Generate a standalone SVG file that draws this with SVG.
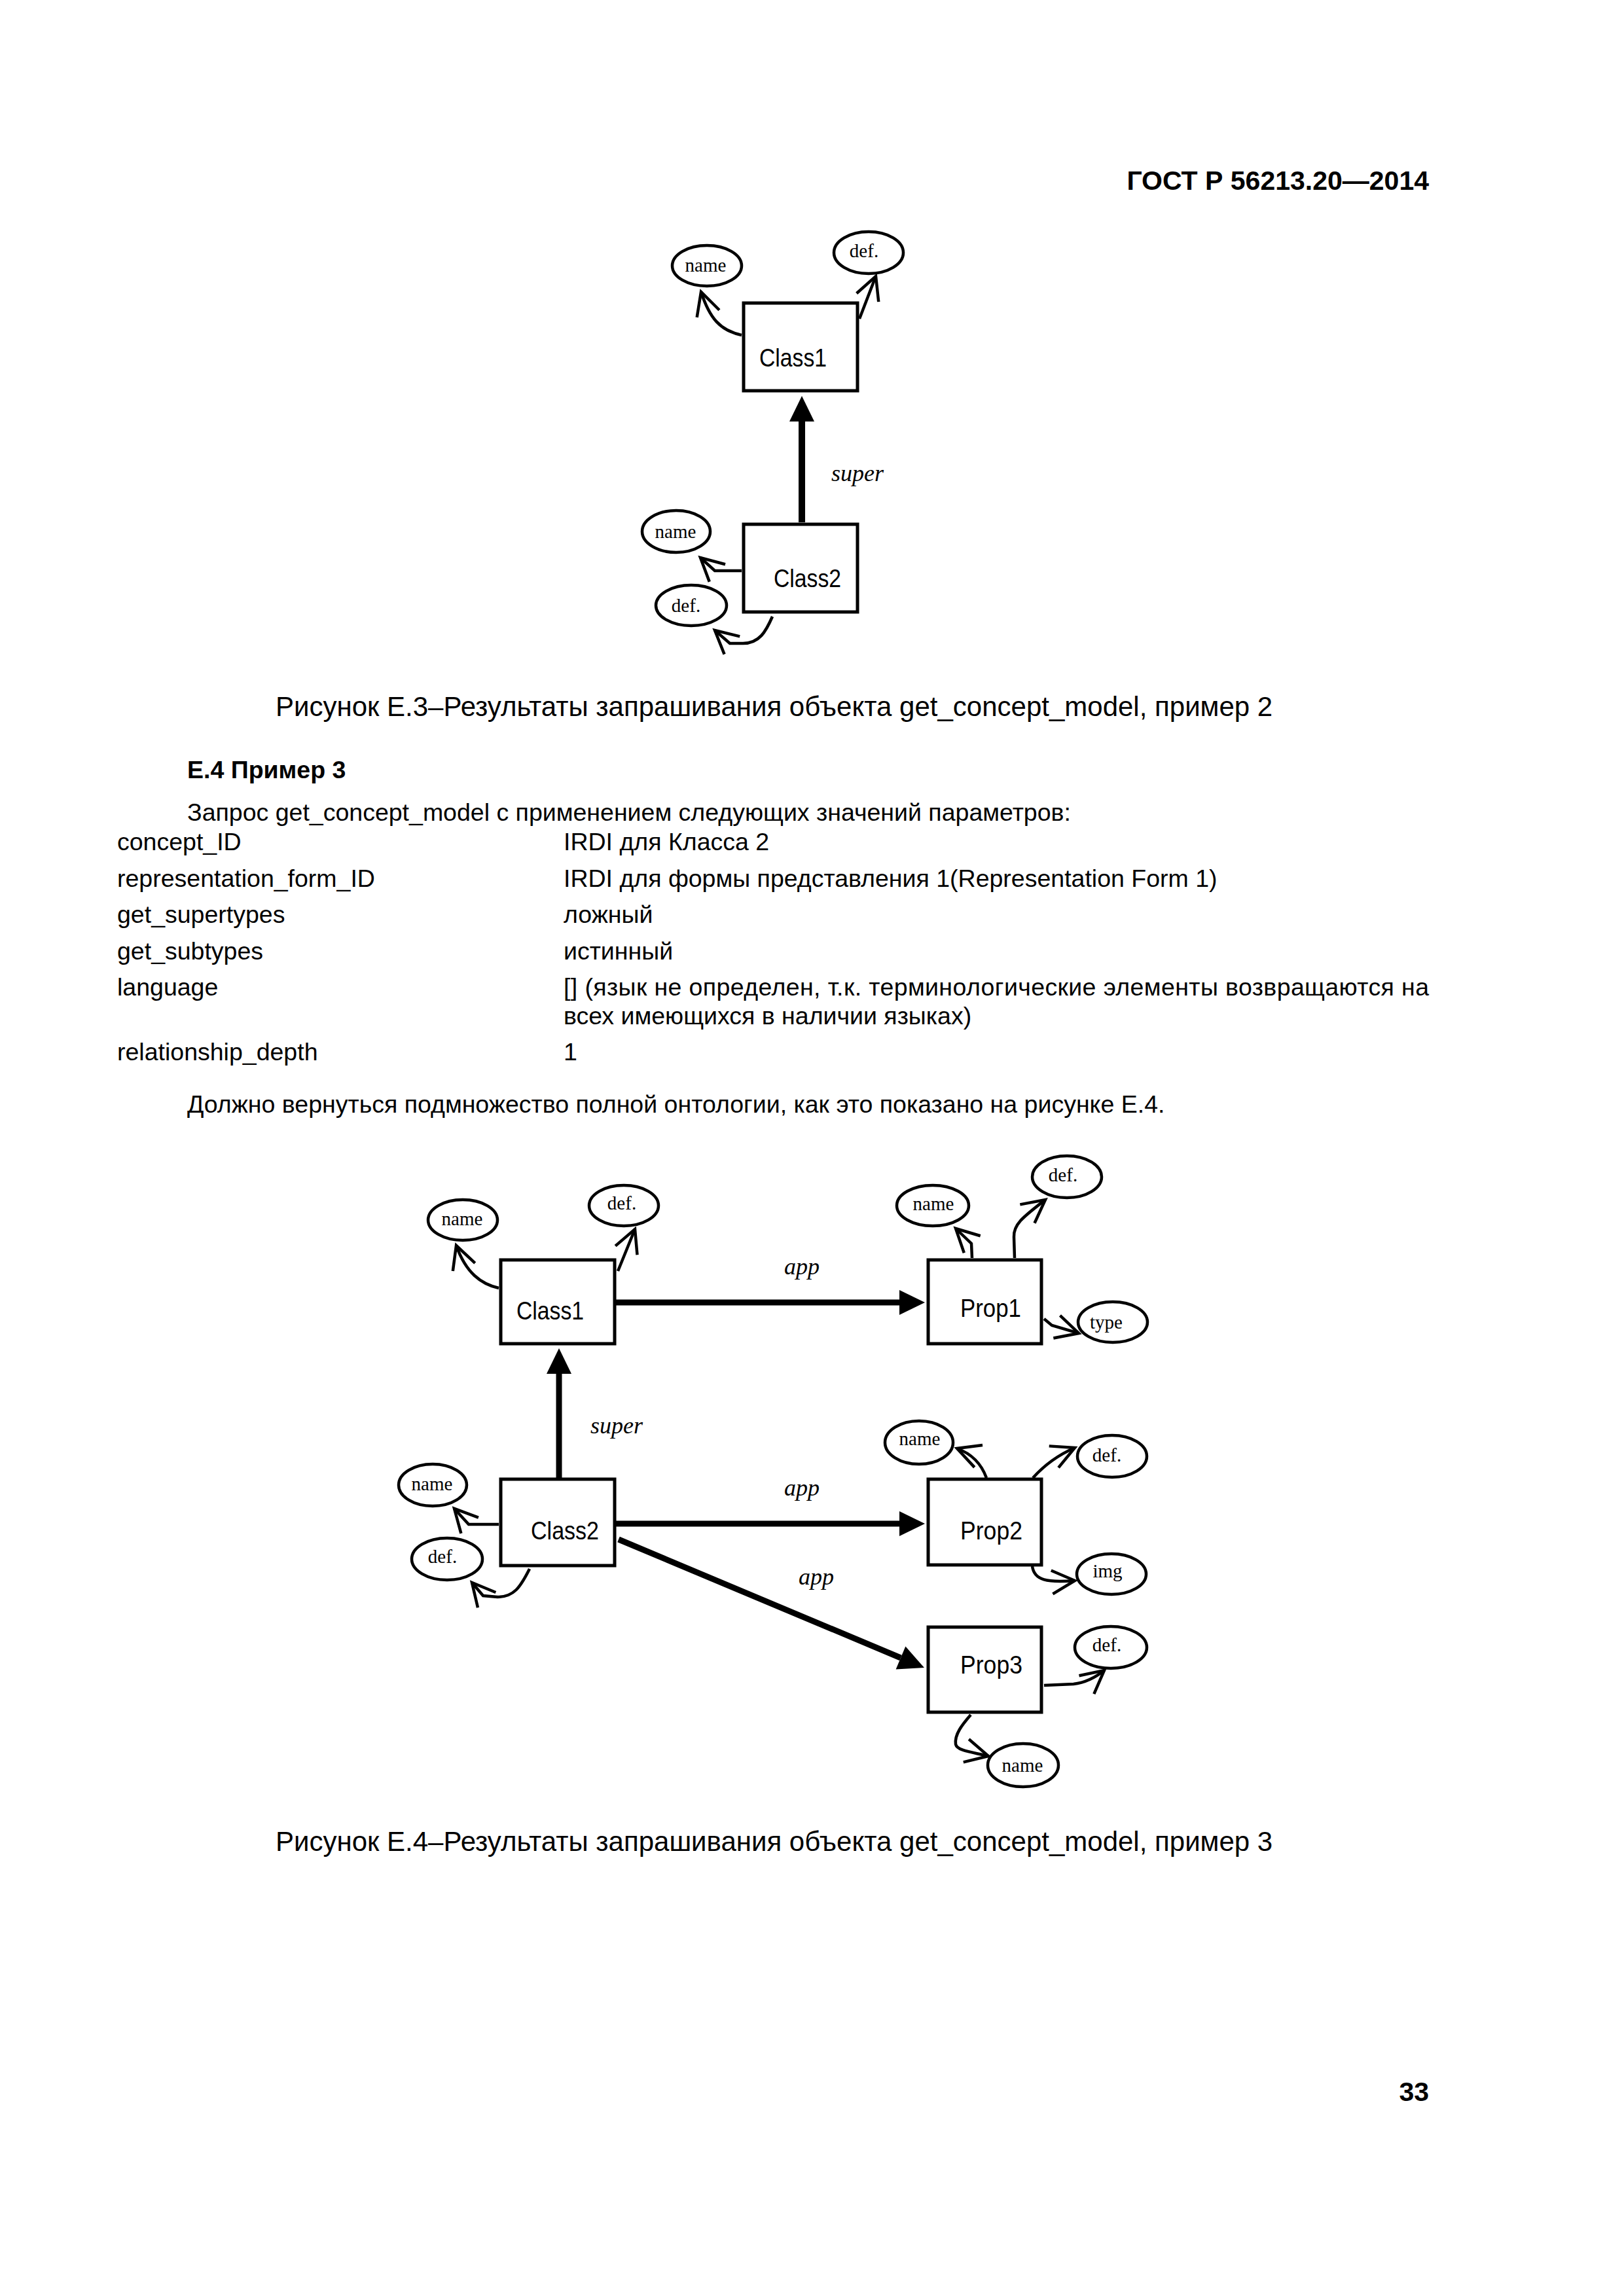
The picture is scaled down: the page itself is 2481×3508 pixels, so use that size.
<svg xmlns="http://www.w3.org/2000/svg" width="2481" height="3508" viewBox="0 0 2481 3508">
<style>
.box{fill:#fff;stroke:#000;stroke-width:5}
.att{fill:#fff;stroke:#000;stroke-width:4.5}
.nl{font-family:"Liberation Sans","DejaVu Sans",sans-serif;font-size:38px;fill:#000}
.al{font-family:"Liberation Serif","DejaVu Serif",serif;font-size:29px;text-anchor:middle;fill:#000}
.rl{font-family:"Liberation Serif","DejaVu Serif",serif;font-size:36px;font-style:italic;fill:#000}
.tx{font-family:"Liberation Sans",Arial,sans-serif;font-size:37.5px;fill:#000}
.cap{font-size:42px}
.b{font-weight:bold}
.thin{fill:none;stroke:#000;stroke-width:4.5;marker-end:url(#open)}
.thick{fill:none;stroke:#000;stroke-width:9;marker-end:url(#tri)}
</style>
<defs>
<marker id="tri" markerUnits="userSpaceOnUse" markerWidth="42" markerHeight="42" viewBox="0 -21 42 42" refX="0" refY="0" orient="auto" overflow="visible"><path d="M0,-19 L39,0 L0,19 Z" fill="#000"/></marker>
<marker id="open" markerUnits="userSpaceOnUse" markerWidth="50" markerHeight="50" viewBox="-45 -25 50 50" refX="0" refY="0" orient="auto" overflow="visible"><path d="M-35,-18 L0,0 L-35,18" fill="none" stroke="#000" stroke-width="4.5"/></marker>
</defs>
<rect width="2481" height="3508" fill="#fff"/>

<g id="page-text">
<text class="tx b" x="2183" y="290" text-anchor="end" style="font-size:41px">ГОСТ Р 56213.20—2014</text>
<text class="tx cap" x="421" y="1094">Рисунок Е.3–Результаты запрашивания объекта get_concept_model, пример 2</text>
<text class="tx b" x="286" y="1189">Е.4 Пример 3</text>
<text class="tx" x="286" y="1254">Запрос get_concept_model с применением следующих значений параметров:</text>
<text class="tx" x="179" y="1299">concept_ID</text>
<text class="tx" x="861" y="1299">IRDI для Класса 2</text>
<text class="tx" x="179" y="1355">representation_form_ID</text>
<text class="tx" x="861" y="1355">IRDI для формы представления 1(Representation Form 1)</text>
<text class="tx" x="179" y="1410">get_supertypes</text>
<text class="tx" x="861" y="1410">ложный</text>
<text class="tx" x="179" y="1466">get_subtypes</text>
<text class="tx" x="861" y="1466">истинный</text>
<text class="tx" x="179" y="1521">language</text>
<text class="tx" x="861" y="1521" textLength="1322" lengthAdjust="spacing">[] (язык не определен, т.к. терминологические элементы возвращаются на</text>
<text class="tx" x="861" y="1565">всех имеющихся в наличии языках)</text>
<text class="tx" x="179" y="1620">relationship_depth</text>
<text class="tx" x="861" y="1620">1</text>
<text class="tx" x="286" y="1700">Должно вернуться подмножество полной онтологии, как это показано на рисунке Е.4.</text>
<text class="tx cap" x="421" y="2828">Рисунок Е.4–Результаты запрашивания объекта get_concept_model, пример 3</text>
<text class="tx b" x="2183" y="3210" text-anchor="end" style="font-size:41px">33</text>
</g>

<!-- Figure E.3 -->
<g id="e3-connectors">
<path class="thick" d="M1225,798 L1225,644" style="stroke-width:10"/>
<path class="thin" d="M1133,512 C1100,505 1084,486 1071,446"/>
<path class="thin" d="M1313,487 L1338,422"/>
<path class="thin" d="M1133,872 L1092,872 L1070,852"/>
<path class="thin" d="M1180,942 C1170,965 1160,983 1135,983 L1115,983 L1092,963"/>
<text class="rl" x="1270" y="735">super</text>
</g>
<g id="e3-class1"><rect class="box" x="1136" y="463" width="174" height="134"/><text class="nl" x="1160" y="560" textLength="103" lengthAdjust="spacingAndGlyphs">Class1</text></g>
<g id="e3-class2"><rect class="box" x="1136" y="801" width="174" height="134"/><text class="nl" x="1182" y="897" textLength="103" lengthAdjust="spacingAndGlyphs">Class2</text></g>
<g id="e3-c1-name"><ellipse class="att" cx="1080" cy="406" rx="53" ry="31"/><text class="al" x="1078" y="415">name</text></g>
<g id="e3-c1-def"><ellipse class="att" cx="1327" cy="386" rx="53" ry="32"/><text class="al" x="1320" y="393">def.</text></g>
<g id="e3-c2-name"><ellipse class="att" cx="1033" cy="812" rx="52" ry="32"/><text class="al" x="1032" y="822">name</text></g>
<g id="e3-c2-def"><ellipse class="att" cx="1056" cy="925" rx="54" ry="31"/><text class="al" x="1048" y="935">def.</text></g>

<!-- Figure E.4 -->
<g id="e4-connectors">
<path class="thick" d="M854,2258 L854,2099"/>
<path class="thick" d="M941,1990 L1374,1990"/>
<path class="thick" d="M941,2328 L1374,2328"/>
<path class="thick" d="M945,2352 L1376,2533"/>
<text class="rl" x="902" y="2190">super</text>
<text class="rl" x="1198" y="1947">app</text>
<text class="rl" x="1198" y="2285">app</text>
<text class="rl" x="1220" y="2421">app</text>
<path class="thin" d="M762,1968 C735,1962 712,1945 697,1903"/>
<path class="thin" d="M944,1942 L970,1878"/>
<path class="thin" d="M762,2329 L716,2329 L694,2305"/>
<path class="thin" d="M809,2397 C795,2425 785,2440 760,2440 L738,2438 L721,2418"/>
<path class="thin" d="M1485,1922 L1484,1900 L1460,1877"/>
<path class="thin" d="M1550,1922 L1549,1890 C1548,1870 1565,1858 1597,1833"/>
<path class="thin" d="M1595,2015 L1607,2025 L1648,2037"/>
<path class="thin" d="M1507,2258 Q1495,2225 1462,2213"/>
<path class="thin" d="M1578,2258 Q1605,2228 1642,2212"/>
<path class="thin" d="M1577,2393 C1580,2415 1600,2418 1642,2415"/>
<path class="thin" d="M1595,2575 L1640,2573 Q1665,2570 1687,2552"/>
<path class="thin" d="M1483,2620 C1470,2635 1458,2650 1460,2665 C1462,2675 1485,2677 1510,2683"/>
</g>
<g id="e4-class1"><rect class="box" x="765" y="1925" width="174" height="128"/><text class="nl" x="789" y="2016" textLength="103" lengthAdjust="spacingAndGlyphs">Class1</text></g>
<g id="e4-class2"><rect class="box" x="765" y="2260" width="174" height="132"/><text class="nl" x="811" y="2352" textLength="104" lengthAdjust="spacingAndGlyphs">Class2</text></g>
<g id="e4-prop1"><rect class="box" x="1418" y="1925" width="173" height="128"/><text class="nl" x="1467" y="2012" textLength="93" lengthAdjust="spacingAndGlyphs">Prop1</text></g>
<g id="e4-prop2"><rect class="box" x="1418" y="2260" width="173" height="131"/><text class="nl" x="1467" y="2352" textLength="95" lengthAdjust="spacingAndGlyphs">Prop2</text></g>
<g id="e4-prop3"><rect class="box" x="1418" y="2486" width="173" height="130"/><text class="nl" x="1467" y="2557" textLength="95" lengthAdjust="spacingAndGlyphs">Prop3</text></g>
<g id="e4-c1-name"><ellipse class="att" cx="707" cy="1864" rx="53" ry="31"/><text class="al" x="706" y="1872">name</text></g>
<g id="e4-c1-def"><ellipse class="att" cx="953" cy="1842" rx="53" ry="31"/><text class="al" x="950" y="1848">def.</text></g>
<g id="e4-c2-name"><ellipse class="att" cx="661" cy="2269" rx="52" ry="32"/><text class="al" x="660" y="2277">name</text></g>
<g id="e4-c2-def"><ellipse class="att" cx="683" cy="2382" rx="54" ry="32"/><text class="al" x="676" y="2388">def.</text></g>
<g id="e4-p1-name"><ellipse class="att" cx="1425" cy="1842" rx="55" ry="31"/><text class="al" x="1426" y="1849">name</text></g>
<g id="e4-p1-def"><ellipse class="att" cx="1630" cy="1798" rx="53" ry="32"/><text class="al" x="1624" y="1805">def.</text></g>
<g id="e4-p1-type"><ellipse class="att" cx="1700" cy="2020" rx="53" ry="31"/><text class="al" x="1690" y="2030">type</text></g>
<g id="e4-p2-name"><ellipse class="att" cx="1404" cy="2204" rx="52" ry="33"/><text class="al" x="1405" y="2208">name</text></g>
<g id="e4-p2-def"><ellipse class="att" cx="1699" cy="2225" rx="53" ry="32"/><text class="al" x="1691" y="2233">def.</text></g>
<g id="e4-p2-img"><ellipse class="att" cx="1698" cy="2405" rx="53" ry="31"/><text class="al" x="1692" y="2410">img</text></g>
<g id="e4-p3-def"><ellipse class="att" cx="1697" cy="2517" rx="55" ry="32"/><text class="al" x="1691" y="2523">def.</text></g>
<g id="e4-p3-name"><ellipse class="att" cx="1563" cy="2697" rx="54" ry="33"/><text class="al" x="1562" y="2707">name</text></g>
</svg>
